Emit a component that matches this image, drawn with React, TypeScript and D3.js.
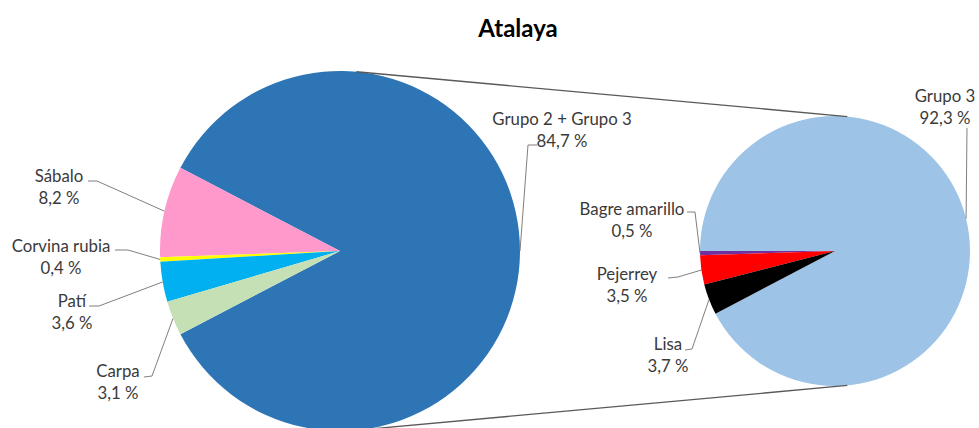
import React from 'react'
import * as d3 from 'd3'

const W = 979
const H = 428

// Primer gráfico (Atalaya)
const mainLabels = ['Grupo 2 + Grupo 3', 'Sábalo', 'Corvina rubia', 'Patí', 'Carpa']
const mainValues = [84.7, 8.2, 0.4, 3.6, 3.1]
const mainColors = ['#2E75B6', '#FF99CC', '#FFFF00', '#00B0F0', '#C5E0B4']

// Desglose de Grupo 3
const subLabels = ['Grupo 3', 'Bagre amarillo', 'Pejerrey', 'Lisa']
const subValues = [92.3, 0.5, 3.5, 3.7]
const subColors = ['#9DC3E6', '#7030A0', '#FF0000', '#000000']

const fmt = (v: number) => `${v.toFixed(1).replace('.', ',')} %`

// label placement: text centre, first baseline, leader points (ends at the slice)
const labelLayout: Record<string, { cx: number; y: number; lead: [number, number][] }> = {
  'Grupo 2 + Grupo 3': { cx: 562, y: 125, lead: [[537, 145], [528, 145]] },
  'Sábalo': { cx: 59, y: 182, lead: [[88, 181], [97, 181]] },
  'Corvina rubia': { cx: 61, y: 252, lead: [[115, 250], [128, 250]] },
  'Patí': { cx: 72, y: 307, lead: [[89, 306], [99, 306]] },
  'Carpa': { cx: 118, y: 377, lead: [[144, 377], [152, 376]] },
  'Grupo 3': { cx: 945, y: 102, lead: [[967, 128]] },
  'Bagre amarillo': { cx: 632, y: 215, lead: [[687, 212], [695, 212]] },
  'Pejerrey': { cx: 627, y: 280, lead: [[668, 278], [678, 277]] },
  'Lisa': { cx: 668, y: 350, lead: [[685, 350], [692, 349]] },
}

const left = { cx: 340, cy: 251, r: 180 }
const right = { cx: 835, cy: 251, r: 135 }

const FONT = 'Lato, "Open Sans", sans-serif'

function PieGroup({ labels, values, colors, geo, start }: any) {
  const pie = d3.pie<number>().sort(null).startAngle(start).endAngle(start - 2 * Math.PI)
  const arcs = pie(values)
  const arc = d3.arc<d3.PieArcDatum<number>>().innerRadius(0).outerRadius(geo.r)
  const edge = d3.arc<d3.PieArcDatum<number>>().innerRadius(geo.r).outerRadius(geo.r)
  return (
    <g>
      <g transform={`translate(${geo.cx},${geo.cy})`}>
        {arcs.map((a, i) => (
          <path key={i} d={arc(a) || ''} fill={colors[i]} />
        ))}
      </g>
      {arcs.map((a, i) => {
        const L = labelLayout[labels[i]]
        const [ex, ey] = edge.centroid(a)
        const pts = [...L.lead, [geo.cx + ex, geo.cy + ey]]
        return (
          <g key={'l' + i}>
            <path d={d3.line()(pts as [number, number][]) || ''} fill="none" stroke="#7F7F7F" strokeWidth={1} />
            <text x={L.cx} y={L.y} textAnchor="middle" fontFamily={FONT} fontSize={16.8} fill="#3A3A3A">
              {labels[i]}
            </text>
            <text x={L.cx} y={L.y + 21.5} textAnchor="middle" fontFamily={FONT} fontSize={16.8} fill="#3A3A3A">
              {fmt(values[i])}
            </text>
          </g>
        )
      })}
    </g>
  )
}

export default function App() {
  const mainSum = d3.sum(mainValues)
  const subSum = d3.sum(subValues)
  // split slice faces the second pie; small slices of the second pie start at 9 o'clock
  const mainStart = Math.PI / 2 + (Math.PI * mainValues[0]) / mainSum
  const subStart = -Math.PI / 2 + (2 * Math.PI * subValues[0]) / subSum

  // external tangents joining both pies
  const d = right.cx - left.cx
  const th = Math.asin((left.r - right.r) / d)
  const s = Math.sin(th)
  const c = Math.cos(th)
  const topLine: [number, number][] = [
    [left.cx + left.r * s, left.cy - left.r * c],
    [right.cx + right.r * s, right.cy - right.r * c],
  ]
  const botLine: [number, number][] = [
    [left.cx + left.r * s, left.cy + left.r * c],
    [right.cx + right.r * s, right.cy + right.r * c],
  ]

  return (
    <svg
      width={W}
      height={H}
      viewBox={`0 0 ${W} ${H}`}
      style={{ position: 'fixed', left: 0, top: 0, background: '#fff' }}
    >
      <rect width={W} height={H} fill="#fff" />
      <text x={518} y={37} textAnchor="middle" fontFamily={FONT} fontWeight="bold" fontSize={24} fill="#000">
        Atalaya
      </text>
      <PieGroup labels={mainLabels} values={mainValues} colors={mainColors} geo={left} start={mainStart} />
      <PieGroup labels={subLabels} values={subValues} colors={subColors} geo={right} start={subStart} />
      <path d={d3.line()(topLine) || ''} stroke="#595959" strokeWidth={1.3} fill="none" />
      <path d={d3.line()(botLine) || ''} stroke="#595959" strokeWidth={1.3} fill="none" />
    </svg>
  )
}
